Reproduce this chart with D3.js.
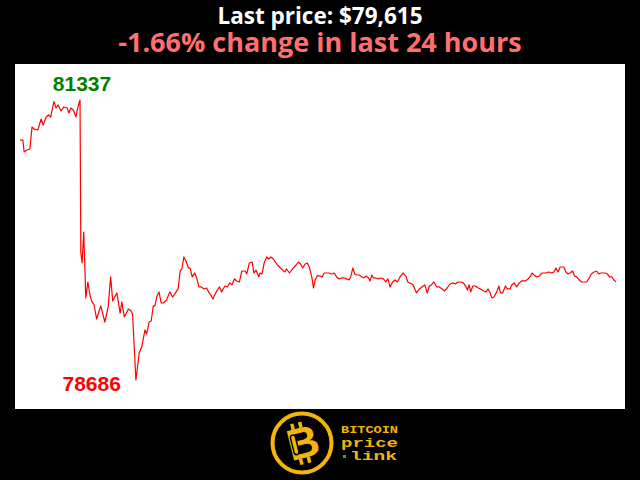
<!DOCTYPE html>
<html>
<head>
<meta charset="utf-8">
<script src="https://cdn.jsdelivr.net/npm/d3@7"></script>
<style>
	body { margin: 0; background: #000; }
	svg { display: block; }
</style>
</head>
<body>
<div id="chart-area"></div>
<script>

// SVG Size
var width = 640,
	height = 480;

// minutes since start of the 24h window
var minutes = [0, 7, 10, 17, 24, 29, 34, 43, 51, 56, 63, 69, 74, 82, 87, 92, 99, 106, 114, 118,
	123, 129, 135, 140, 145, 147, 150, 154, 159, 164, 169, 174, 179, 185, 195, 205, 213, 219, 224, 234,
	242, 246, 252, 262, 268, 272, 280, 288, 294, 302, 306, 312, 317, 322, 326, 331, 336, 341, 346, 354,
	362, 369, 374, 382, 387, 391, 396, 401, 407, 411, 416, 422, 427, 432, 438, 445, 451, 457, 461, 466,
	474, 482, 487, 495, 501, 507, 512, 518, 524, 530, 536, 544, 548, 554, 561, 565, 570, 577, 580, 585,
	590, 596, 601, 606, 612, 622, 632, 640, 644, 651, 660, 667, 673, 678, 683, 689, 694, 699, 705, 709,
	713, 718, 725, 730, 735, 741, 746, 752, 759, 765, 771, 777, 783, 789, 795, 799, 804, 809, 814, 820,
	826, 831, 836, 842, 846, 850, 854, 860, 866, 871, 878, 884, 889, 894, 900, 906, 912, 918, 926, 933,
	937, 942, 950, 958, 965, 971, 978, 984, 989, 994, 1000, 1007, 1013, 1020, 1026, 1032, 1039, 1045, 1052, 1058,
	1065, 1071, 1078, 1081, 1085, 1089, 1094, 1100, 1107, 1113, 1120, 1126, 1131, 1136, 1140, 1145, 1152, 1157, 1161, 1166,
	1173, 1177, 1184, 1188, 1194, 1200, 1206, 1212, 1220, 1228, 1234, 1237, 1242, 1248, 1255, 1261, 1271, 1277, 1285, 1290,
	1295, 1300, 1305, 1309, 1314, 1319, 1324, 1329, 1335, 1340, 1345, 1351, 1357, 1363, 1369, 1374, 1380, 1387, 1393, 1398,
	1403, 1409, 1414, 1419, 1424, 1430, 1435, 1440];

// BTC price in USD
var prices = [80958, 80958, 80845, 80864, 80873, 81081, 81062, 81053, 81157, 81100, 81176, 81195, 81176, 81322, 81261, 81290, 81233, 81271, 81261, 81214,
	81261, 81242, 81176, 81271, 81337, 79888, 79794, 80087, 79463, 79614, 79491, 79425, 79396, 79264, 79387, 79235, 79378, 79662, 79434, 79510,
	79320, 79425, 79283, 79359, 79339, 79311, 78686, 78942, 78998, 79160, 79122, 79235, 79245, 79387, 79387, 79482, 79520, 79415, 79415, 79443,
	79520, 79472, 79501, 79548, 79718, 79737, 79851, 79813, 79746, 79746, 79662, 79699, 79652, 79567, 79567, 79548, 79557, 79510, 79491, 79453,
	79520, 79567, 79520, 79576, 79567, 79605, 79586, 79643, 79624, 79614, 79718, 79718, 79690, 79794, 79803, 79699, 79727, 79662, 79699, 79690,
	79794, 79851, 79832, 79851, 79832, 79775, 79737, 79709, 79737, 79699, 79746, 79775, 79803, 79784, 79746, 79784, 79794, 79756, 79662, 79557,
	79633, 79671, 79671, 79662, 79699, 79699, 79699, 79690, 79699, 79662, 79643, 79652, 79652, 79643, 79633, 79662, 79746, 79690, 79680, 79680,
	79662, 79652, 79671, 79652, 79624, 79680, 79652, 79652, 79643, 79652, 79643, 79614, 79643, 79567, 79614, 79633, 79614, 79662, 79699, 79662,
	79614, 79605, 79586, 79510, 79548, 79567, 79586, 79510, 79576, 79586, 79614, 79567, 79567, 79548, 79529, 79557, 79595, 79605, 79595, 79614,
	79614, 79605, 79567, 79538, 79586, 79520, 79576, 79576, 79557, 79548, 79529, 79520, 79548, 79510, 79463, 79472, 79520, 79576, 79510, 79510,
	79576, 79548, 79548, 79586, 79605, 79567, 79605, 79624, 79624, 79643, 79671, 79699, 79680, 79662, 79671, 79699, 79699, 79709, 79699, 79709,
	79746, 79709, 79756, 79756, 79756, 79709, 79690, 79699, 79718, 79671, 79662, 79633, 79614, 79614, 79614, 79643, 79690, 79709, 79718, 79690,
	79699, 79699, 79699, 79690, 79662, 79662, 79633, 79615];

var lastPrice = 79615;
var change24h = -1.66;
var logoLines = ["BITCOIN", "price", "link"];

var data = minutes.map(function (m, i) {
	return {minute: m, price: prices[i]};
});

var svg = d3.select("#chart-area")
	.append("svg")
	.attr("width", width)
	.attr("height", height);

// black background + white plot panel
svg.append("rect").attr("width", width).attr("height", height).attr("fill", "#000");
svg.append("rect")
	.attr("x", 15).attr("y", 64)
	.attr("width", 610).attr("height", 345)
	.attr("fill", "#fff");

// headings
svg.append("text")
	.attr("x", 320).attr("y", 24)
	.attr("text-anchor", "middle")
	.attr("font-family", "'Open Sans', sans-serif")
	.attr("font-weight", "bold")
	.attr("font-size", 22.5)
	.attr("fill", "#fff")
	.text("Last price: $" + d3.format(",")(lastPrice));

svg.append("text")
	.attr("x", 320).attr("y", 52)
	.attr("text-anchor", "middle")
	.attr("font-family", "'Open Sans', sans-serif")
	.attr("font-weight", "bold")
	.attr("font-size", 27)
	.attr("fill", "#ff6f6f")
	.text(change24h.toFixed(2) + "% change in last 24 hours");

// scales
var xScale = d3.scaleLinear()
	.domain([0, 1440])
	.range([20, 616]);

var yScale = d3.scaleLinear()
	.domain([d3.min(prices), d3.max(prices)])
	.range([380, 100]);

var line = d3.line()
	.x(function (d) {return xScale(d.minute)})
	.y(function (d) {return yScale(d.price)});

svg.append("path")
	.datum(data)
	.attr("d", line)
	.attr("fill", "none")
	.attr("stroke", "#ff0000")
	.attr("stroke-width", 1.2)
	.attr("stroke-linejoin", "round");

// high / low labels
var hi = data[d3.maxIndex(data, function (d) {return d.price})];
var lo = data[d3.minIndex(data, function (d) {return d.price})];

svg.append("text")
	.attr("x", xScale(hi.minute) + 2).attr("y", yScale(hi.price) - 9)
	.attr("text-anchor", "middle")
	.attr("font-family", "'Liberation Sans', Arial, sans-serif")
	.attr("font-weight", "bold")
	.attr("font-size", 21)
	.attr("fill", "#008000")
	.text(hi.price);

svg.append("text")
	.attr("x", xScale(lo.minute) - 15).attr("y", yScale(lo.price) + 11)
	.attr("text-anchor", "end")
	.attr("font-family", "'Liberation Sans', Arial, sans-serif")
	.attr("font-weight", "bold")
	.attr("font-size", 21)
	.attr("fill", "#ff0000")
	.text(lo.price);

// logo
var gold = "#f4b50a";
var logo = svg.append("g").attr("transform", "translate(302,443)");

logo.append("circle").attr("r", 29.5).attr("fill", "none").attr("stroke", gold).attr("stroke-width", 4);

var bmark = logo.append("g").attr("transform", "rotate(-14)");
bmark.append("text")
	.attr("x", 1).attr("y", 15)
	.attr("text-anchor", "middle")
	.attr("font-family", "'Liberation Sans', Arial, sans-serif")
	.attr("font-weight", "bold")
	.attr("font-size", 44)
	.attr("fill", gold)
	.text("B");
[-7, 1].forEach(function (dx) {
	bmark.append("rect").attr("x", dx).attr("y", -21).attr("width", 3.5).attr("height", 6).attr("fill", gold);
	bmark.append("rect").attr("x", dx).attr("y", 15).attr("width", 3.5).attr("height", 6).attr("fill", gold);
});
// chain link glyph inside the B
bmark.append("rect").attr("x", -10).attr("y", -10).attr("width", 5).attr("height", 20)
	.attr("rx", 2.5).attr("fill", "none").attr("stroke", "#000").attr("stroke-width", 1.5);

var logoText = svg.append("g")
	.attr("font-family", "'Liberation Mono', 'DejaVu Sans Mono', monospace")
	.attr("font-weight", "bold")
	.attr("fill", gold);

logoText.append("text").attr("x", 341).attr("y", 433).attr("font-size", 11)
	.attr("textLength", 57).attr("lengthAdjust", "spacingAndGlyphs").text(logoLines[0]);
logoText.append("text").attr("x", 341).attr("y", 446.5).attr("font-size", 12.5)
	.attr("textLength", 57).attr("lengthAdjust", "spacingAndGlyphs").text(logoLines[1]);
logoText.append("text").attr("x", 350).attr("y", 460).attr("font-size", 12.5)
	.attr("textLength", 47).attr("lengthAdjust", "spacingAndGlyphs").text(logoLines[2]);
svg.append("rect").attr("x", 343).attr("y", 455).attr("width", 3).attr("height", 3).attr("fill", "#2db52d");

</script>
</body>
</html>
